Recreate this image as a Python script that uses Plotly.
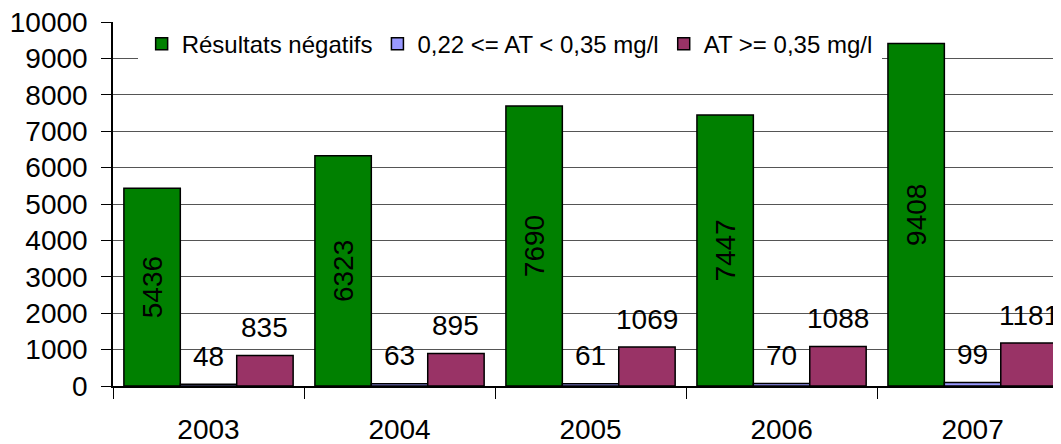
import plotly.graph_objects as go

years = ["2003", "2004", "2005", "2006", "2007"]
negatifs = [5436, 6323, 7690, 7447, 9408]
at_mid = [48, 63, 61, 70, 99]
at_high = [835, 895, 1069, 1088, 1181]

names = ["Résultats négatifs", "0,22 <= AT < 0,35 mg/l", "AT >= 0,35 mg/l"]
colors = ["#008000", "#9999FF", "#993366"]
y_ticks = list(range(0, 10001, 1000))

FONT = "Liberation Sans, Arial, sans-serif"

fig = go.Figure()
fig.add_trace(go.Bar(
    x=years, y=negatifs, name=names[0],
    marker=dict(color=colors[0], line=dict(color="black", width=1.5)),
    text=[str(v) for v in negatifs], textposition="inside", textangle=-90,
    insidetextanchor="middle", textfont=dict(family=FONT, size=28, color="black"),
))
fig.add_trace(go.Bar(
    x=years, y=at_mid, name=names[1],
    marker=dict(color=colors[1], line=dict(color="black", width=1.5)),
))
fig.add_trace(go.Bar(
    x=years, y=at_high, name=names[2],
    marker=dict(color=colors[2], line=dict(color="black", width=1.5)),
))

# outside labels for the small series (category index + pixel offset of the bar in the group)
BAR_PX = 56.4
for vals, shift in ((at_mid, 0), (at_high, BAR_PX)):
    for i, v in enumerate(vals):
        fig.add_annotation(
            x=i, y=v, xref="x", yref="y", text=str(v), showarrow=False,
            xshift=shift, yshift=28, yanchor="middle", xanchor="center",
            font=dict(family=FONT, size=28, color="black"),
        )

# page body has an 8px margin: figure is sized to end at the window edge
fig.update_layout(
    width=1053, height=436,
    margin=dict(l=105, r=0, t=14, b=58, autoexpand=False),
    paper_bgcolor="white", plot_bgcolor="white",
    barmode="group", bargap=0.114, bargroupgap=0,
    font=dict(family=FONT, size=28, color="black"),
    showlegend=True,
    legend=dict(
        orientation="h", x=0.026, y=1.012, xanchor="left", yanchor="top",
        bgcolor="white", bordercolor="white", borderwidth=4,
        font=dict(family=FONT, size=24, color="black"),
        traceorder="normal",
    ),
    xaxis=dict(
        type="category", range=[-0.5, 4.463],
        showline=True, linecolor="black", linewidth=1.5,
        ticks="outside", tickson="boundaries", ticklen=11, tickcolor="black", tickwidth=1,
        showgrid=False, ticklabelstandoff=18, ticklabeloverflow="allow",
        tickfont=dict(family=FONT, size=28, color="black"),
    ),
    yaxis=dict(
        range=[0, 10000], tickvals=y_ticks, ticktext=[str(t) for t in y_ticks],
        showline=True, linecolor="black", linewidth=1.5,
        ticks="outside", ticklen=10, tickcolor="black", tickwidth=1,
        showgrid=True, gridcolor="#555555", gridwidth=1,
        zeroline=False, ticklabelstandoff=8, ticklabeloverflow="allow",
        tickfont=dict(family=FONT, size=28, color="black"),
    ),
)

fig.write_html("out.html")
